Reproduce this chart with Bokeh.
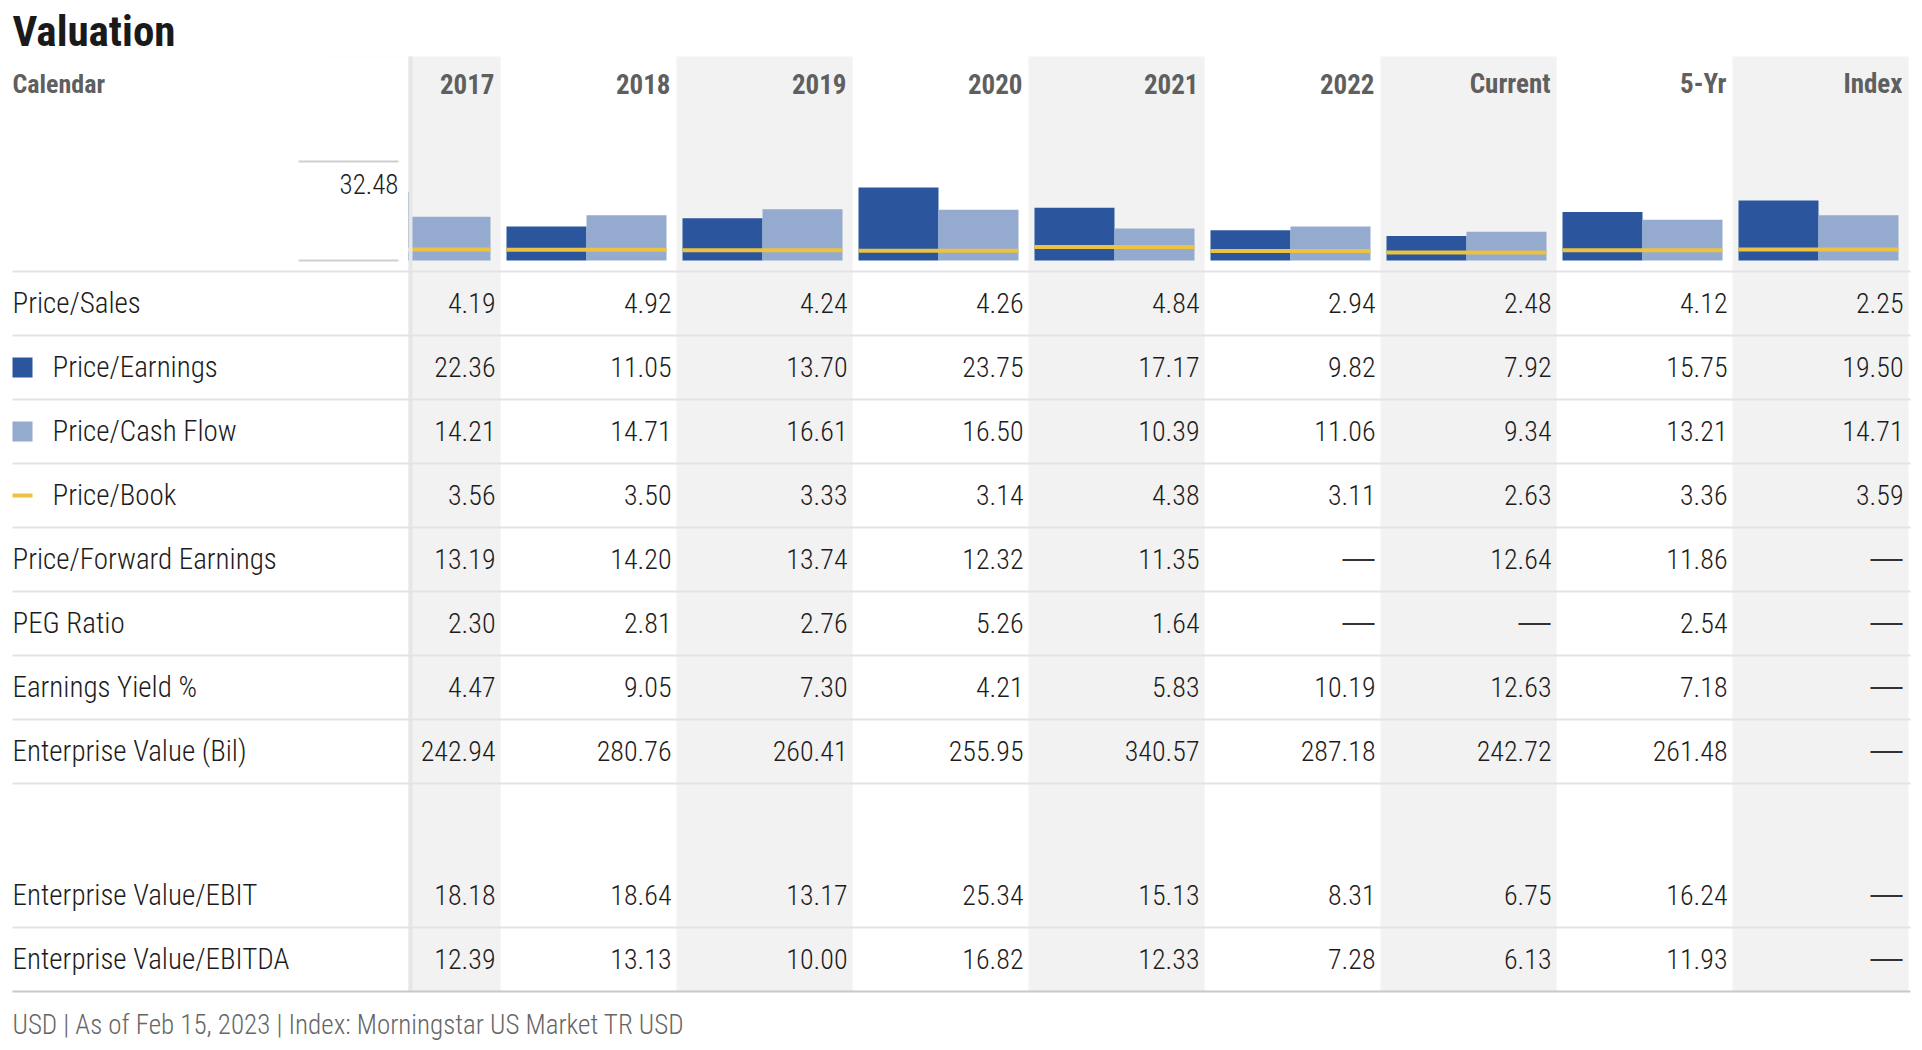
from bokeh.plotting import figure
from bokeh.models import Range1d
from bokeh.embed import file_html
from bokeh.resources import INLINE
from bokeh.core.properties import value

# ---------------- data ----------------
columns = ["2017", "2018", "2019", "2020", "2021", "2022", "Current", "5-Yr", "Index"]
row_labels = ["Price/Sales", "Price/Earnings", "Price/Cash Flow", "Price/Book",
              "Price/Forward Earnings", "PEG Ratio", "Earnings Yield %",
              "Enterprise Value (Bil)", "Enterprise Value/EBIT", "Enterprise Value/EBITDA"]

price_sales = [4.19, 4.92, 4.24, 4.26, 4.84, 2.94, 2.48, 4.12, 2.25]
price_earnings = [22.36, 11.05, 13.70, 23.75, 17.17, 9.82, 7.92, 15.75, 19.50]
price_cash_flow = [14.21, 14.71, 16.61, 16.50, 10.39, 11.06, 9.34, 13.21, 14.71]
price_book = [3.56, 3.50, 3.33, 3.14, 4.38, 3.11, 2.63, 3.36, 3.59]
price_fwd_earnings = [13.19, 14.20, 13.74, 12.32, 11.35, None, 12.64, 11.86, None]
peg_ratio = [2.30, 2.81, 2.76, 5.26, 1.64, None, None, 2.54, None]
earnings_yield = [4.47, 9.05, 7.30, 4.21, 5.83, 10.19, 12.63, 7.18, None]
enterprise_value = [242.94, 280.76, 260.41, 255.95, 340.57, 287.18, 242.72, 261.48, None]
ev_ebit = [18.18, 18.64, 13.17, 25.34, 15.13, 8.31, 6.75, 16.24, None]
ev_ebitda = [12.39, 13.13, 10.00, 16.82, 12.33, 7.28, 6.13, 11.93, None]
spark_max = 32.48
title = "Valuation"
header_label = "Calendar"
footer = "USD | As of Feb 15, 2023 | Index: Morningstar US Market TR USD"
missing = "\u2014"

table_rows = [price_sales, price_earnings, price_cash_flow, price_book,
              price_fwd_earnings, peg_ratio, earnings_yield, enterprise_value,
              ev_ebit, ev_ebitda]

# ---------------- layout / style ----------------
F_LIGHT = "Roboto Condensed Light"
F_BOLD = "Roboto Condensed"
F_DASH = "Liberation Sans"

W, H, M = 1912, 1046, 0
COL0 = 412.0          # page x of first data column centre
COLW = 176.0          # data column width
SPARK_BASE = 260.0    # page y of sparkline zero
SPARK_TOP = 160.0     # page y of spark_max
k = (SPARK_BASE - SPARK_TOP) / spark_max

DARK = "#2b569d"
LIGHT = "#94aacf"
YELLOW = "#ecc240"
SHADE = "#f2f2f2"
SEP = "#e3e3e3"
TXT = "#1c1c1c"
GREY = "#5f5f5f"

STEP = 64.0
row_y = [302 + STEP * r for r in range(8)] + [894, 958]
sep_y = [271 + STEP * r for r in range(9)] + [927]
BOTTOM = 991
FS = 29
FS_V = 28
FS_H = 26

p = figure(width=W, height=H, output_backend="svg", toolbar_location=None,
           x_range=Range1d(M, M + W), y_range=Range1d(M + H, M),
           x_axis_location=None, y_axis_location=None,
           min_border=0, min_border_left=0, min_border_right=0,
           min_border_top=0, min_border_bottom=0)
p.outline_line_color = None
p.xgrid.visible = False
p.ygrid.visible = False
p.background_fill_color = "white"
p.border_fill_color = "white"

p.extra_x_ranges = {"col": Range1d((M - COL0) / COLW, (M + W - COL0) / COLW)}
p.extra_y_ranges = {"spark": Range1d(-(M + H - SPARK_BASE) / k, (SPARK_BASE - M) / k)}

n = len(columns)
idx = list(range(n))

# shaded alternate columns
shade_idx = [i for i in idx if i % 2 == 0]
p.quad(left=[i - 0.5 for i in shade_idx], right=[i + 0.5 for i in shade_idx],
       top=[56] * len(shade_idx), bottom=[BOTTOM] * len(shade_idx),
       x_range_name="col", fill_color=SHADE, line_color=None)

# sparkline bars
bw = 80 / COLW
p.vbar(x=[i - 42 / COLW for i in idx], width=bw, bottom=0, top=price_earnings,
       x_range_name="col", y_range_name="spark", fill_color=DARK, line_color=None)
p.vbar(x=[i + 38 / COLW for i in idx], width=bw, bottom=0, top=price_cash_flow,
       x_range_name="col", y_range_name="spark", fill_color=LIGHT, line_color=None)
p.segment(x0=[i - 82 / COLW for i in idx], x1=[i + 78 / COLW for i in idx],
          y0=price_book, y1=price_book, x_range_name="col", y_range_name="spark",
          line_color=YELLOW, line_width=4)

# label column mask and left border of data area
p.quad(left=[M], right=[408], top=[56], bottom=[BOTTOM], fill_color="white", line_color=None)
p.quad(left=[408], right=[412], top=[56], bottom=[BOTTOM], fill_color="#e6e6e6", line_color=None)

# sparkline scale
p.segment(x0=[298, 298], x1=[398, 398], y0=[161, SPARK_BASE], y1=[161, SPARK_BASE],
          line_color="#cfcfcf", line_width=2)
p.text(x=[398], y=[183], text=[f"{spark_max:.2f}"], text_align="right",
       text_baseline="alphabetic", text_font=value(F_LIGHT), text_font_size="27px", text_color=TXT)

# separators
p.segment(x0=[12] * len(sep_y), x1=[1910] * len(sep_y), y0=sep_y, y1=sep_y,
          line_color=SEP, line_width=2)
p.segment(x0=[12], x1=[1910], y0=[BOTTOM], y1=[BOTTOM], line_color="#c8c8c8", line_width=2)

# title & headers
p.text(x=[12], y=[30.5], text=[title], text_font=value(F_BOLD), text_font_style="bold",
       text_font_size="43px", text_color="#1a1a1a", text_baseline="alphabetic")
hc = 83
p.text(x=[12], y=[hc], text=[header_label], text_font=value(F_BOLD), text_font_style="bold",
       text_font_size=f"{FS_H}px", text_color=GREY, text_baseline="alphabetic")
p.text(x=[i + 0.5 - 6 / COLW for i in idx], y=[hc] * n, text=columns, x_range_name="col",
       text_align="right", text_font=value(F_BOLD), text_font_style="bold",
       text_font_size="27px", text_color=GREY, text_baseline="alphabetic")

# row labels
legend_rows = {1: ("sq", DARK), 2: ("sq", LIGHT), 3: ("ln", YELLOW)}
lx = [52 if r in legend_rows else 12 for r in range(len(row_labels))]
p.text(x=lx, y=row_y, text=row_labels, text_font=value(F_LIGHT),
       text_font_size=f"{FS}px", text_color=TXT, text_baseline="alphabetic")
for r, (kind, col) in legend_rows.items():
    h = 10 if kind == "sq" else 2
    p.quad(left=[12], right=[32], top=[row_y[r] + 1 - h], bottom=[row_y[r] + 1 + h],
           fill_color=col, line_color=None)

# values (numbers) and missing markers
xs, ys, ts = [], [], []
dx, dy, dt = [], [], []
for r, vals in enumerate(table_rows):
    for i, v in enumerate(vals):
        if v is None:
            dx.append(i + 0.5 - 6 / COLW)
            dy.append(row_y[r] - 2)
            dt.append(missing)
        else:
            xs.append(i + 0.5 - 5 / COLW)
            ys.append(row_y[r])
            ts.append(f"{v:.2f}")
p.text(x=xs, y=ys, text=ts, x_range_name="col", text_align="right",
       text_font=value(F_LIGHT), text_font_size=f"{FS_V}px", text_color=TXT,
       text_baseline="alphabetic")
p.text(x=dx, y=dy, text=dt, x_range_name="col", text_align="right",
       text_font=value(F_DASH), text_font_size="32px", text_color="#333333",
       text_baseline="alphabetic")

# footer
p.text(x=[12], y=[1024], text=[footer], text_font=value(F_LIGHT),
       text_font_size="27px", text_color="#666666", text_baseline="alphabetic")

open("out.html", "w").write(file_html(p, INLINE))
